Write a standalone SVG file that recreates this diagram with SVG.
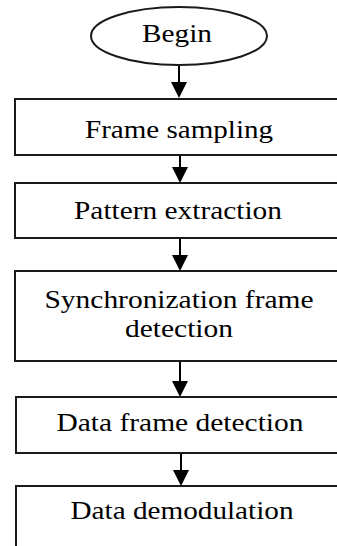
<svg xmlns="http://www.w3.org/2000/svg" width="337" height="546" viewBox="0 0 337 546">
<style>
.n{fill:#fff;stroke:#1a1a1a;stroke-width:2}
.t{font-family:'Liberation Serif','DejaVu Serif',serif;font-size:25px;fill:#000;text-anchor:middle}
.c{stroke:#000;stroke-width:2;fill:none}
.h{fill:#000;stroke:none}
</style>
<rect width="337" height="546" fill="#fff"/>
<g id="connectors">
<line class="c" x1="179" y1="65" x2="179" y2="84"/>
<polygon class="h" points="171,82 187,82 179,98"/>
<line class="c" x1="180" y1="155" x2="180" y2="169"/>
<polygon class="h" points="172,167 188,167 180,183"/>
<line class="c" x1="180" y1="238" x2="180" y2="257"/>
<polygon class="h" points="172,255 188,255 180,271"/>
<line class="c" x1="180" y1="361" x2="180" y2="383"/>
<polygon class="h" points="172,381 188,381 180,397"/>
<line class="c" x1="181" y1="453" x2="181" y2="472"/>
<polygon class="h" points="173,470 189,470 181,486"/>
</g>
<g id="begin">
<ellipse class="n" cx="179" cy="36" rx="88" ry="29" stroke-width="1.6"/>
<text class="t" font-family="Liberation Serif, serif" x="177" y="42" textLength="70" lengthAdjust="spacingAndGlyphs">Begin</text>
</g>
<g id="frame-sampling">
<rect class="n" x="15" y="99" width="340" height="56"/>
<text class="t" font-family="Liberation Serif, serif" x="179" y="138" textLength="188" lengthAdjust="spacingAndGlyphs">Frame sampling</text>
</g>
<g id="pattern-extraction">
<rect class="n" x="15" y="183" width="340" height="55"/>
<text class="t" font-family="Liberation Serif, serif" x="178" y="219" textLength="208" lengthAdjust="spacingAndGlyphs">Pattern extraction</text>
</g>
<g id="sync-detection">
<rect class="n" x="15" y="271" width="340" height="90"/>
<text class="t" font-family="Liberation Serif, serif" x="179" y="308" textLength="269" lengthAdjust="spacingAndGlyphs">Synchronization frame</text>
<text class="t" font-family="Liberation Serif, serif" x="179" y="337" textLength="108" lengthAdjust="spacingAndGlyphs">detection</text>
</g>
<g id="data-frame-detection">
<rect class="n" x="16" y="397" width="340" height="56"/>
<text class="t" font-family="Liberation Serif, serif" x="180" y="431" textLength="247" lengthAdjust="spacingAndGlyphs">Data frame detection</text>
</g>
<g id="data-demodulation">
<rect class="n" x="16" y="486" width="340" height="80"/>
<text class="t" font-family="Liberation Serif, serif" x="182" y="519" textLength="223" lengthAdjust="spacingAndGlyphs">Data demodulation</text>
</g>
</svg>
